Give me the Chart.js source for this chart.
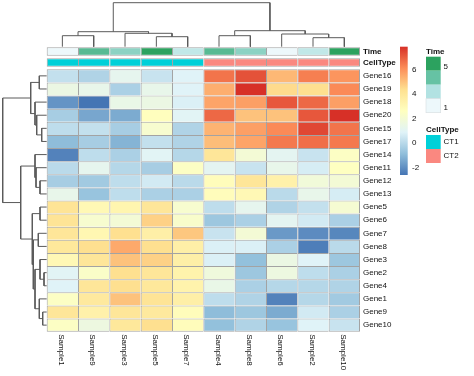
<!DOCTYPE html>
<html><head><meta charset="utf-8">
<script src="https://cdn.jsdelivr.net/npm/chart.js@4.4.1/dist/chart.umd.min.js"></script>
<style>html,body{margin:0;padding:0;background:#fff;}canvas{display:block;}</style>
</head><body>
<canvas id="c" width="474" height="376"></canvas>
<script>
// ---------- data ----------
const samples = ['Sample1','Sample9','Sample3','Sample5','Sample7','Sample4','Sample8','Sample6','Sample2','Sample10'];
const genes = ['Gene16','Gene19','Gene18','Gene20','Gene15','Gene17','Gene14','Gene11','Gene12','Gene13',
               'Gene5','Gene6','Gene7','Gene8','Gene3','Gene2','Gene4','Gene1','Gene9','Gene10'];

const gene16 = [0.3,-0.1,1.2,0.4,0.9,6.5,7.2,5.2,6.3,5.9];
const gene19 = [1.5,1.3,-0.3,1.3,0.9,5.4,7.8,4.5,4.3,6.1];
const gene18 = [-1.8,-2.6,1.4,1.5,0.8,5.6,5.7,7.1,6.8,5.7];
const gene20 = [-0.4,-1.4,-1.3,2.7,1.0,6.8,5.0,5.0,7.1,7.85];
const gene15 = [0.2,0.3,-0.4,2.2,-0.1,5.3,5.7,6.1,7.4,6.5];
const gene17 = [-0.9,-0.4,-1.1,0.3,-0.1,5.1,5.6,6.4,6.6,6.4];
const gene14 = [-2.2,0.2,-0.2,1.0,0.0,4.0,1.9,1.1,0.4,2.5];
const gene11 = [0.1,1.2,0.0,-0.4,2.5,1.1,0.4,1.3,0.7,2.6];
const gene12 = [-0.4,-0.5,0.2,0.6,0.1,2.8,4.0,3.4,1.8,1.9];
const gene13 = [1.3,-0.7,0.2,-0.3,-0.3,2.8,3.0,0.1,1.3,0.7];
const gene5  = [4.1,3.0,3.2,4.0,2.2,0.2,1.2,-0.1,0.3,2.0];
const gene6  = [4.1,2.2,1.9,4.7,2.3,-0.6,-0.2,1.1,0.6,-0.2];
const gene7  = [4.0,3.1,4.3,3.5,4.9,0.4,1.9,-1.7,-2.0,-2.1];
const gene8  = [3.9,4.4,5.5,4.3,3.5,0.8,0.8,-0.2,-2.3,0.1];
const gene3  = [3.0,4.0,5.0,4.7,3.5,0.8,-0.8,1.5,0.9,-0.6];
const gene2  = [1.0,2.4,4.3,4.0,3.3,1.7,-0.6,1.6,0.2,-0.2];
const gene4  = [0.9,4.0,4.3,3.9,3.3,1.4,-0.3,0.0,0.0,-0.1];
const gene1  = [2.5,3.8,5.0,4.1,3.5,0.2,-0.1,-2.2,0.0,-0.5];
const gene9  = [4.0,3.4,4.0,3.8,2.8,-0.9,-0.6,-1.3,0.6,-0.2];
const gene10 = [2.5,1.6,3.9,4.4,2.8,-0.8,-0.1,-0.7,0.9,0.4];

const time = [1,4,3,5,2,4,3,1,2,5];
const cellType = ['CT1','CT1','CT1','CT1','CT1','CT2','CT2','CT2','CT2','CT2'];
const cellTypeLevels = ['CT1','CT2'];
const colorTicks = [-2,0,2,4,6];

// dendrograms: pairs (negative = leaf in display order, positive = earlier merge), heights
const colPairs = [[-1,-2],[-4,-5],[-3,2],[1,3],[-6,-7],[-9,-10],[-8,6],[5,7],[4,8]];
const colHeights = [11,10,13.4,15,11,9,12.7,16,44];
const rowPairs = [[-1,-2],[-5,-6],[-4,2],[-3,3],[1,4],[-9,-10],[-8,6],[-7,7],[-11,-12],[-13,-14],
                  [-16,-17],[-15,11],[-19,-20],[-18,13],[12,14],[10,15],[9,16],[8,17],[5,18]];
const rowHeights = [7.4,5.0,10.0,11.7,16.0,6.7,10.7,11.7,6.7,8.4,2.7,6.7,4.0,7.4,11.7,13.4,14.4,26.0,44.0];

const matrix = [gene16,gene19,gene18,gene20,gene15,gene17,gene14,gene11,gene12,gene13,
                gene5,gene6,gene7,gene8,gene3,gene2,gene4,gene1,gene9,gene10];

// ---------- styles / layout ----------
const W = 474, H = 376;
const PAD = {left: 46.7, right: 114, top: 69.3, bottom: 44.3};
const areaW = W - PAD.left - PAD.right;
const areaH = H - PAD.top - PAD.bottom;
const rowH = areaH / genes.length;
const LEAF_X = 46.7, LEAF_Y = 46.7;
const timeRow = [(47.3 - PAD.top) / rowH, (55.7 - PAD.top) / rowH];
const ctRow = [(58.3 - PAD.top) / rowH, (66.7 - PAD.top) / rowH];
const heatRamp = ['#4575B4','#91BFDB','#E0F3F8','#FFFFBF','#FEE090','#FC8D59','#D73027'];
const timeRamp = ['#EDF8FB','#B2E2E2','#66C2A4','#2CA25F'];
const ctColors = {CT1: '#00D0D8', CT2: '#FA8880'};
const FONT = '"Liberation Sans", Arial, sans-serif';
const BORDER = '#a3a3a3';

function hexToRgb(h){ const n = parseInt(h.slice(1),16); return [(n>>16)&255,(n>>8)&255,n&255]; }
function rampColor(stops, t){
  t = Math.max(0, Math.min(1, t));
  const seg = t * (stops.length - 1);
  const i = Math.min(stops.length - 2, Math.floor(seg));
  const f = seg - i;
  const a = hexToRgb(stops[i]), b = hexToRgb(stops[i+1]);
  return 'rgb(' + a.map((v,k) => Math.round(v + (b[k]-v)*f)).join(',') + ')';
}
const allVals = matrix.flat();
const vmin = Math.min(...allVals), vmax = Math.max(...allVals);
function valueColor(v){
  const bin = Math.min(99, Math.floor((v - vmin) / (vmax - vmin) * 100));
  return rampColor(heatRamp, bin / 99);
}
const tmin = Math.min(...time), tmax = Math.max(...time);
function timeColor(v){ return rampColor(timeRamp, (v - tmin) / (tmax - tmin)); }

function dendroPaths(pairs, heights){
  const pos = [];
  const nodePos = k => k < 0 ? (-k - 1) + 0.5 : pos[k - 1];
  const nodeH = k => k < 0 ? 0 : heights[k - 1];
  const paths = [];
  pairs.forEach((p, i) => {
    const a = nodePos(p[0]), b = nodePos(p[1]);
    pos[i] = (a + b) / 2;
    const h = heights[i];
    paths.push([[a, nodeH(p[0])], [a, h], [b, h], [b, nodeH(p[1])]]);
  });
  return paths;
}

// ---------- datasets ----------
const datasets = [];
const cellBorder = (r, lastRow) => ctx => ({
  top: 1, left: 1,
  right: ctx.dataIndex === samples.length - 1 ? 1 : 0,
  bottom: lastRow ? 1 : 0
});
const barCommon = {type: 'bar', xAxisID: 'x', yAxisID: 'y', grouped: false, barPercentage: 1,
  categoryPercentage: 1, borderColor: BORDER, borderSkipped: false, inflateAmount: 0, clip: false};

datasets.push(Object.assign({}, barCommon, {
  label: 'Time',
  data: time.map((t, c) => ({x: c + 0.5, y: timeRow})),
  backgroundColor: time.map(timeColor),
  borderWidth: cellBorder(0, true)
}));
datasets.push(Object.assign({}, barCommon, {
  label: 'CellType',
  data: cellType.map((t, c) => ({x: c + 0.5, y: ctRow})),
  backgroundColor: cellType.map(t => ctColors[t]),
  borderWidth: cellBorder(0, true)
}));
genes.forEach((g, r) => {
  datasets.push(Object.assign({}, barCommon, {
    label: g,
    data: matrix[r].map((v, c) => ({x: c + 0.5, y: [r, r + 1]})),
    backgroundColor: matrix[r].map(valueColor),
    borderWidth: cellBorder(r, r === genes.length - 1)
  }));
});
const lineCommon = {type: 'line', borderColor: '#5a5a5a', borderWidth: 1, pointRadius: 0,
  fill: false, tension: 0, clip: false};
dendroPaths(colPairs, colHeights).forEach(path => {
  datasets.push(Object.assign({}, lineCommon, {xAxisID: 'x', yAxisID: 'yh',
    data: path.map(([p, h]) => ({x: p, y: h}))}));
});
dendroPaths(rowPairs, rowHeights).forEach(path => {
  datasets.push(Object.assign({}, lineCommon, {xAxisID: 'xh', yAxisID: 'y',
    data: path.map(([p, h]) => ({x: h, y: p}))}));
});

// ---------- text & legends ----------
const textPlugin = {
  id: 'heatText',
  afterDraw(chart){
    const ctx = chart.ctx, xs = chart.scales.x, ys = chart.scales.y;
    ctx.save();
    ctx.fillStyle = '#111';
    ctx.textBaseline = 'middle';
    ctx.textAlign = 'left';
    const labelX = xs.getPixelForValue(samples.length) + 3;
    ctx.font = '8px ' + FONT;
    genes.forEach((g, r) => ctx.fillText(g, labelX, ys.getPixelForValue(r + 0.5)));
    ctx.font = 'bold 8px ' + FONT;
    ctx.fillText('Time', labelX, ys.getPixelForValue((timeRow[0] + timeRow[1]) / 2) + 0.5);
    ctx.fillText('CellType', labelX, ys.getPixelForValue((ctRow[0] + ctRow[1]) / 2) + 0.5);
    // sample labels (rotated clockwise)
    ctx.font = '8px ' + FONT;
    const yTop = ys.getPixelForValue(genes.length) + 2.5;
    samples.forEach((s, c) => {
      ctx.save();
      ctx.translate(xs.getPixelForValue(c + 0.5) - 1, yTop);
      ctx.rotate(Math.PI / 2);
      ctx.fillText(s, 0, 0);
      ctx.restore();
    });
    // colour bar
    const cbX = 400, cbW = 7.7, cbTop = 46.7, cbBot = 175;
    const grad = ctx.createLinearGradient(0, cbBot, 0, cbTop);
    heatRamp.forEach((col, i) => grad.addColorStop(i / (heatRamp.length - 1), col));
    ctx.fillStyle = grad;
    ctx.fillRect(cbX, cbTop, cbW, cbBot - cbTop);
    ctx.fillStyle = '#111';
    colorTicks.forEach(t => {
      const y = cbBot - (t - vmin) / (vmax - vmin) * (cbBot - cbTop);
      ctx.fillText(String(t), 412, y);
    });
    // Time legend
    const lx = 426, lw = 14.7, bh = 14;
    ctx.font = 'bold 8px ' + FONT;
    ctx.fillText('Time', lx, 51.5);
    timeRamp.slice().reverse().forEach((col, i) => {
      ctx.fillStyle = col;
      ctx.fillRect(lx, 56.7 + i * bh, lw, bh);
    });
    ctx.strokeStyle = '#d8dde0'; ctx.lineWidth = 0.6;
    ctx.strokeRect(lx, 56.7 + 3 * bh, lw, bh);
    ctx.fillStyle = '#111';
    ctx.font = '8px ' + FONT;
    ctx.fillText(String(tmax), 443.5, 66.5);
    ctx.fillText(String(tmin), 443.5, 108);
    // CellType legend
    ctx.font = 'bold 8px ' + FONT;
    ctx.fillText('CellType', lx, 129.5);
    ctx.font = '8px ' + FONT;
    cellTypeLevels.forEach((lv, i) => {
      ctx.fillStyle = ctColors[lv];
      ctx.fillRect(lx, 135 + i * bh, lw, bh);
      ctx.fillStyle = '#111';
      ctx.fillText(lv, 443.5, 142 + i * bh);
    });
    ctx.restore();
  }
};

new Chart(document.getElementById('c'), {
  type: 'bar',
  data: {datasets},
  options: {
    responsive: false, animation: false, devicePixelRatio: 1,
    layout: {padding: PAD},
    plugins: {legend: {display: false}, tooltip: {enabled: false}},
    scales: {
      x: {type: 'linear', display: false, offset: false, min: 0, max: samples.length,
          grid: {offset: false}},
      y: {type: 'linear', display: false, offset: false, reverse: true, min: 0, max: genes.length},
      xh: {type: 'linear', display: false, offset: false, reverse: true, axis: 'x', position: 'bottom',
           max: LEAF_X - PAD.left, min: LEAF_X - PAD.left - areaW},
      yh: {type: 'linear', display: false, offset: false, axis: 'y', position: 'left',
           max: LEAF_Y - PAD.top, min: LEAF_Y - PAD.top - areaH}
    }
  },
  plugins: [textPlugin]
});
</script>
</body></html>
